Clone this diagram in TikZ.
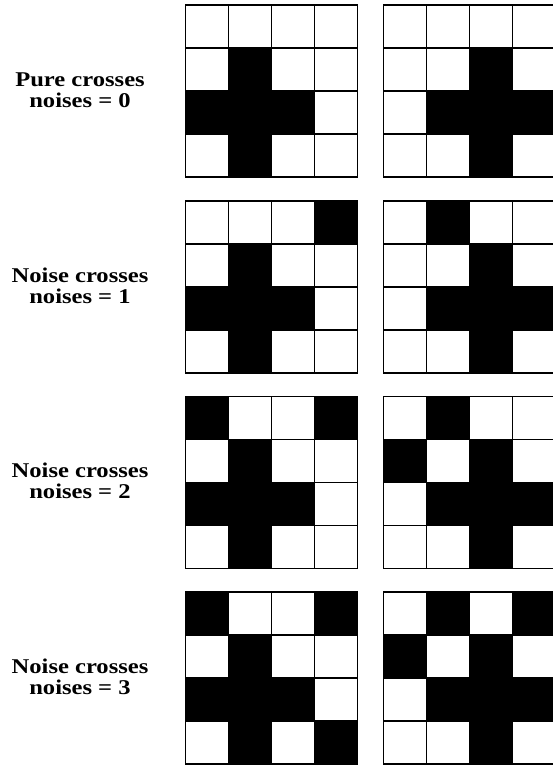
\documentclass[tikz,border=0pt]{standalone}
\usepackage{fontspec}
\setmainfont{Liberation Serif}
\newcommand\crossgrid[3]{%
  \foreach \c/\r in {#3} {\fill[cellfill] (#1+\c*43,#2+\r*43) rectangle ++(43,43);}
  \foreach \i in {0,...,4} {%
    \draw[gridline] (#1+\i*43,#2) -- ++(0,172);
    \draw[gridline] (#1,#2+\i*43) -- ++(172,0);
  }%
}
\newcommand\widetxt[1]{\scalebox{1.17}[1]{#1}}
\begin{document}
\begin{tikzpicture}[x=1pt,y=-1pt,
  cellfill/.style={fill=black},
  gridline/.style={line width=1.9pt, line cap=rect},
  lab/.style={font=\fontsize{21}{20.5}\selectfont\bfseries, align=center, inner sep=0pt}]
\useasboundingbox (0,0) rectangle (553,767);
\clip (0,0) rectangle (553,767);
% row 1
\crossgrid{185.5}{5}{1/1,1/2,1/3,0/2,2/2}
\crossgrid{383.5}{5}{2/1,2/2,2/3,1/2,3/2}
% row 2
\crossgrid{185.5}{201}{1/1,1/2,1/3,0/2,2/2,3/0}
\crossgrid{383.5}{201}{2/1,2/2,2/3,1/2,3/2,1/0}
% row 3
\crossgrid{185.5}{396.5}{1/1,1/2,1/3,0/2,2/2,3/0,0/0}
\crossgrid{383.5}{396.5}{2/1,2/2,2/3,1/2,3/2,1/0,0/1}
% row 4
\crossgrid{185.5}{592}{1/1,1/2,1/3,0/2,2/2,3/0,0/0,3/3}
\crossgrid{383.5}{592}{2/1,2/2,2/3,1/2,3/2,1/0,0/1,3/0}
% labels
\node[lab] (l0) at (80,90) {\widetxt{Pure crosses}\\\widetxt{noises = 0}};
\node[lab] (l1) at (80,286) {\widetxt{Noise crosses}\\\widetxt{noises = 1}};
\node[lab] (l2) at (80,481) {\widetxt{Noise crosses}\\\widetxt{noises = 2}};
\node[lab] (l3) at (80,677) {\widetxt{Noise crosses}\\\widetxt{noises = 3}};
\end{tikzpicture}
\end{document}
